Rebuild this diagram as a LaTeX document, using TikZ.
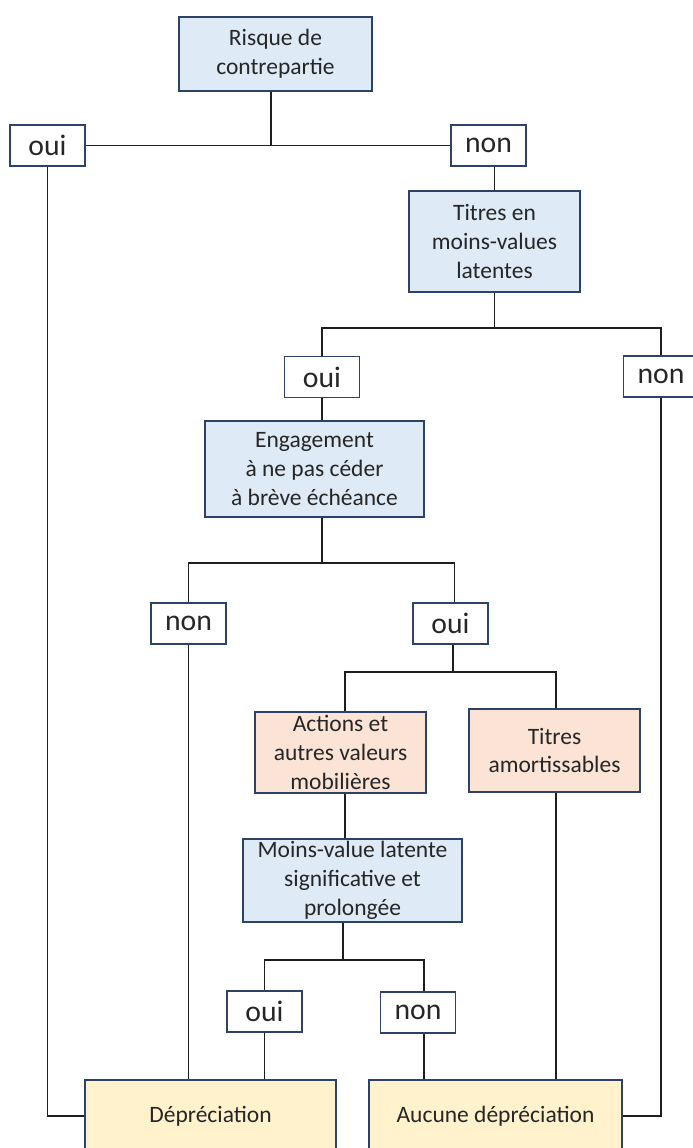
\documentclass[tikz,border=0pt]{standalone}
\usepackage{fontspec}
\setmainfont{Carlito}
\usepackage{tikz}
\usepackage{xcolor}
\definecolor{qblue}{RGB}{222, 234, 246}
\definecolor{qpeach}{RGB}{251, 228, 214}
\definecolor{qyellow}{RGB}{255, 242, 204}
\definecolor{qedge}{RGB}{44, 66, 104}
\definecolor{qline}{RGB}{30, 30, 30}
\newcommand{\boxfont}{\fontsize{23.5}{28.7}\selectfont}
\newcommand{\answerfont}{\fontsize{29.7}{34}\selectfont}
\tikzset{
    basebox/.style={rectangle, draw=qedge, line width=1.6pt, align=center, inner sep=0pt, font=\boxfont, text=black!85},
    question/.style={basebox, fill=qblue},
    category/.style={basebox, fill=qpeach},
    outcome/.style={basebox, fill=qyellow},
    answer/.style={basebox, fill=white, font=\answerfont, minimum width=75pt, minimum height=41pt},
    link/.style={draw=qline, line width=1.8pt}
}

\begin{document}
\begin{tikzpicture}[x=1pt, y=-1pt]
    \useasboundingbox (0,0) rectangle (693,1148);
    \clip (0,0) rectangle (693,1148);
    % questions
    \node[question, minimum width=193pt, minimum height=74pt] (risque) at (275.5,54) {Risque de\\contrepartie};
    \node[question, minimum width=171pt, minimum height=101pt] (titres) at (494.5,241.5) {Titres en\\moins-values\\latentes};
    \node[question, minimum width=219pt, minimum height=96pt] (engage) at (314.5,469) {Engagement\\à ne pas céder\\à brève échéance};
    \node[question, minimum width=219pt, minimum height=83pt] (moins) at (352.5,880.5) {Moins-value latente\\significative et\\prolongée};
    % categories
    \node[category, minimum width=171pt, minimum height=81pt] (actions) at (340.5,752.5) {Actions et\\autres valeurs\\mobilières};
    \node[category, minimum width=171pt, minimum height=83pt] (amort) at (554.5,750.5) {Titres\\amortissables};
    % outcomes
    \node[outcome, minimum width=251pt, minimum height=72pt] (depr) at (210.5,1116) {Dépréciation};
    \node[outcome, minimum width=253pt, minimum height=72pt] (aucune) at (495.5,1116) {Aucune dépréciation};
    % answers
    \node[answer] (oui1) at (47.5,145.5) {oui};
    \node[answer] (non1) at (488.5,145.5) {non};
    \node[answer] (oui2) at (322,377) {oui};
    \node[answer] (non2) at (661,376.5) {non};
    \node[answer] (non3) at (188.5,623.5) {non};
    \node[answer] (oui3) at (450.5,623.5) {oui};
    \node[answer] (oui4) at (264.5,1011.5) {oui};
    \node[answer] (non4) at (418,1012.5) {non};
    % junctions
    \coordinate (j1) at (271,145.5);
    \coordinate (j2) at (494.5,328);
    \coordinate (j3) at (322,563);
    \coordinate (j4) at (453,672);
    \coordinate (j5) at (343,960);
    % connectors
    \draw[link] (risque.south -| j1) -- (j1);
    \draw[link] (oui1.east) -- (non1.west);
    \draw[link] (oui1.south) |- (depr.west);
    \draw[link] (non1.south -| titres.north) -- (titres.north);
    \draw[link] (titres.south) -- (j2);
    \draw[link] (oui2.north) |- (j2) -| (non2.north);
    \draw[link] (non2.south) |- (aucune.east);
    \draw[link] (oui2.south) -- (oui2.south |- engage.north);
    \draw[link] (engage.south -| j3) -- (j3);
    \draw[link] (non3.north) |- (j3) -| ([xshift=4pt]oui3.north);
    \draw[link] (non3.south) -- (non3.south |- depr.north);
    \draw[link] (oui3.south -| j4) -- (j4);
    \draw[link] ([xshift=4.5pt]actions.north) |- (j4) -| ([xshift=1.5pt]amort.north);
    \draw[link] ([xshift=4.5pt]actions.south) -- ([xshift=4.5pt]actions.south |- moins.north);
    \draw[link] (moins.south -| j5) -- (j5);
    \draw[link] (oui4.north) |- (j5) -| ([xshift=6pt]non4.north);
    \draw[link] (oui4.south) -- (oui4.south |- depr.north);
    \draw[link] ([xshift=6pt]non4.south) -- ([xshift=6pt]non4.south |- aucune.north);
    \draw[link] ([xshift=1.5pt]amort.south) -- ([xshift=1.5pt]amort.south |- aucune.north);
\end{tikzpicture}
\end{document}
